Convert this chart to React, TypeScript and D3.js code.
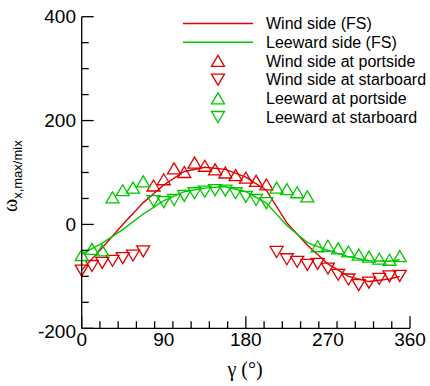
import React, { useEffect, useRef } from 'react';
import * as d3 from 'd3';

// wind side (FS) curve
const windFS: [number, number][] = [
  [0, -88], [22.5, -45], [45, 0], [67.5, 42], [90, 76], [112.5, 102], [135, 110],
  [157.5, 106], [180, 91], [202.5, 66], [225, 3], [247.5, -40], [270, -76],
  [292.5, -100], [315, -110], [337.5, -105], [348.75, -100]
];
// leeward side (FS) curve
const leeFS: [number, number][] = [
  [0, -57], [22.5, -36], [45, -10], [67.5, 20], [90, 46], [112.5, 63], [135, 70],
  [157.5, 73], [180, 63], [202.5, 41], [225, -2], [247.5, -35], [270, -50],
  [292.5, -62], [315, -70], [337.5, -71], [348.75, -68]
];
const windPort: [number, number][] = [
  [78.75, 75], [90, 87], [101.25, 108], [112.5, 101], [123.75, 119], [135, 113],
  [146.25, 106], [157.5, 100], [168.75, 95], [180, 90], [191.25, 84], [202.5, 77]
];
const windStar: [number, number][] = [
  [0, -89], [11.25, -80], [22.5, -74], [33.75, -70], [45, -65], [56.25, -60], [67.5, -52],
  [213.75, -53], [225, -67], [236.25, -72], [247.5, -78], [258.75, -76], [270, -85],
  [281.25, -97], [292.5, -106], [303.75, -117], [315, -112], [326.25, -105],
  [337.5, -100], [348.75, -99]
];
const leePort: [number, number][] = [
  [0, -59], [11.25, -47], [22.5, -50], [33.75, 52], [45, 66], [56.25, 71], [67.5, 83],
  [213.75, 71], [225, 68], [236.25, 62], [247.5, 54],
  [258.75, -42], [270, -41], [281.25, -46], [292.5, -52], [303.75, -58], [315, -62],
  [326.25, -66], [337.5, -68], [348.75, -61]
];
const leeStar: [number, number][] = [
  [78.75, 45], [90, 43], [101.25, 47], [112.5, 55], [123.75, 60], [135, 63],
  [146.25, 66], [157.5, 65], [168.75, 60], [180, 53], [191.25, 47], [202.5, 41]
];

const xTicks = [0, 90, 180, 270, 360];
const yTicks = [-200, 0, 200, 400];
const legendNames = [
  'Wind side (FS)', 'Leeward side (FS)', 'Wind side at portside',
  'Wind side at starboard', 'Leeward at portside', 'Leeward at starboard'
];

const RED = '#e00000';
const GREEN = '#00c800';

function tri(x: number, y: number, up: boolean) {
  const w = 6.5, h = 5.5;
  return up
    ? `M${x - w},${y + h}L${x},${y - h}L${x + w},${y + h}Z`
    : `M${x - w},${y - h}L${x},${y + h}L${x + w},${y - h}Z`;
}

export default function App() {
  const ref = useRef<SVGSVGElement>(null);

  useEffect(() => {
    const svg = d3.select(ref.current);
    svg.selectAll('*').remove();

    const x = d3.scaleLinear().domain([0, 360]).range([81.7, 410]);
    const y = d3.scaleLinear().domain([-200, 400]).range([328.3, 16.7]);
    const font = "'Liberation Sans', Arial, sans-serif";

    const g = svg.append('g');

    // curves
    const line = d3.line<[number, number]>().x(d => x(d[0])).y(d => y(d[1]));
    g.append('path').attr('d', line(windFS)).attr('fill', 'none')
      .attr('stroke', RED).attr('stroke-width', 1.4);
    g.append('path').attr('d', line(leeFS)).attr('fill', 'none')
      .attr('stroke', GREEN).attr('stroke-width', 1.4);

    // markers
    const marks = (data: [number, number][], color: string, up: boolean) => {
      g.append('g').selectAll('path')
        .data(data)
        .enter()
        .append('path')
        .attr('d', d => tri(x(d[0]), y(d[1]), up))
        .attr('fill', 'none')
        .attr('stroke', color)
        .attr('stroke-width', 1.3);
    };
    marks(windPort, RED, true);
    marks(windStar, RED, false);
    marks(leePort, GREEN, true);
    marks(leeStar, GREEN, false);

    // axes
    const ax = svg.append('g').attr('stroke', '#000').attr('stroke-width', 1.3);
    ax.append('line').attr('x1', x(0)).attr('x2', x(0)).attr('y1', y(400)).attr('y2', y(-200));
    ax.append('line').attr('x1', x(0)).attr('x2', x(360)).attr('y1', y(-200)).attr('y2', y(-200));

    x.ticks(16).forEach(t => {
      const major = t % 90 === 0;
      ax.append('line').attr('x1', x(t)).attr('x2', x(t))
        .attr('y1', y(-200)).attr('y2', y(-200) - (major ? 12 : 7));
    });
    y.ticks(12).forEach(t => {
      const major = t % 200 === 0;
      ax.append('line').attr('y1', y(t)).attr('y2', y(t))
        .attr('x1', x(0)).attr('x2', x(0) + (major ? 12 : 7));
    });

    svg.append('g').selectAll('text')
      .data(xTicks)
      .enter()
      .append('text')
      .attr('x', d => x(d))
      .attr('y', 346)
      .attr('text-anchor', 'middle')
      .attr('font-family', font)
      .attr('font-size', 19)
      .text(d => d);

    svg.append('g').selectAll('text')
      .data(yTicks)
      .enter()
      .append('text')
      .attr('x', 76)
      .attr('y', d => y(d) + (d === -200 ? 3 : 0))
      .attr('dy', '0.35em')
      .attr('text-anchor', 'end')
      .attr('font-family', font)
      .attr('font-size', 19)
      .text(d => d);

    // axis titles
    const xt = svg.append('text')
      .attr('x', 245).attr('y', 376)
      .attr('text-anchor', 'middle')
      .attr('font-family', "'Liberation Serif', 'Times New Roman', serif")
      .attr('font-size', 20);
    xt.text('γ (°)');

    const yt = svg.append('text')
      .attr('transform', 'translate(17,212) rotate(-90)');
    yt.append('tspan')
      .attr('font-family', "'Liberation Serif', 'Times New Roman', serif")
      .attr('font-size', 20)
      .text('ω');
    yt.append('tspan')
      .attr('dy', 5)
      .attr('font-family', font)
      .attr('font-size', 13)
      .text('x,max/mix');

    // legend
    const lg = svg.append('g');
    legendNames.forEach((name, i) => {
      const ly = 23.5 + i * 18.7;
      if (i < 2) {
        lg.append('line').attr('x1', 183).attr('x2', 253).attr('y1', ly).attr('y2', ly)
          .attr('stroke', i === 0 ? RED : GREEN).attr('stroke-width', 1.4);
      } else {
        lg.append('path').attr('d', tri(218, ly, i % 2 === 0))
          .attr('fill', 'none').attr('stroke', i < 4 ? RED : GREEN).attr('stroke-width', 1.3);
      }
      lg.append('text')
        .attr('x', 266).attr('y', ly).attr('dy', '0.35em')
        .attr('font-family', font).attr('font-size', 16)
        .text(name);
    });
  }, []);

  return (
    <svg ref={ref} width={430} height={386}
      style={{ position: 'absolute', left: 0, top: 0, background: '#fff' }} />
  );
}
